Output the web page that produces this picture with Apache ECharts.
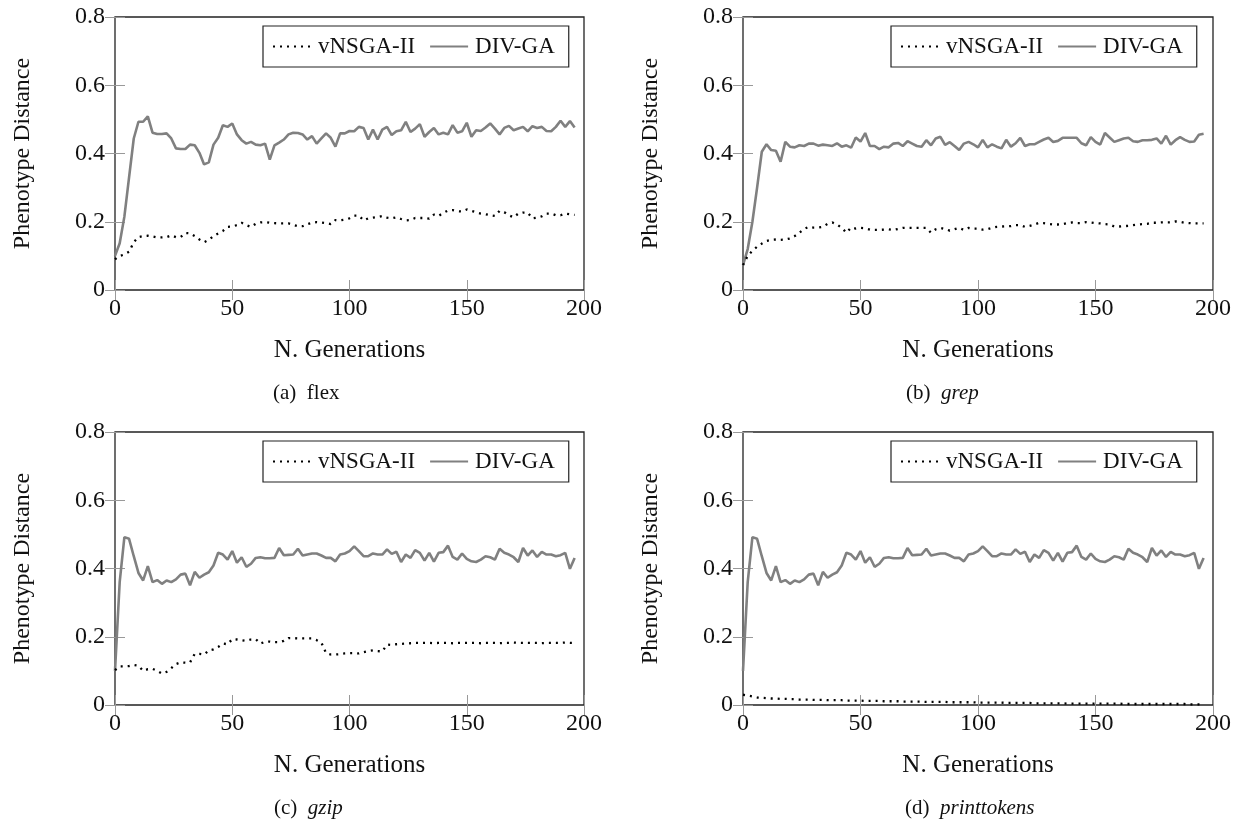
<!DOCTYPE html>
<html>
<head>
<meta charset="utf-8">
<script src="https://cdn.jsdelivr.net/npm/echarts@6/dist/echarts.min.js"></script>
<style>
  html, body { margin: 0; padding: 0; background: #fff; }
  #chart { width: 1240px; height: 819px; }
</style>
</head>
<body>
<div id="chart"></div>
<script>
// generations sampled every 2 steps (0..196)
const gens = Array.from({ length: 99 }, (_, i) => i * 2)

const xTicks = [0, 50, 100, 150, 200]
const yTicks = [0, 0.2, 0.4, 0.6, 0.8]
const seriesNames = ['vNSGA-II', 'DIV-GA']
const panelNames = ['flex', 'grep', 'gzip', 'printtokens']
const panelTags = ['(a)', '(b)', '(c)', '(d)']

// (a) flex
const vnsgaFlex = [
  0.090, 0.100, 0.104, 0.112, 0.140, 0.155, 0.158, 0.159, 0.157, 0.154,
  0.154, 0.155, 0.160, 0.155, 0.155, 0.167, 0.166, 0.158, 0.148, 0.140,
  0.147, 0.158, 0.166, 0.173, 0.185, 0.186, 0.190, 0.197, 0.190, 0.185,
  0.194, 0.198, 0.199, 0.197, 0.196, 0.195, 0.195, 0.195, 0.191, 0.187,
  0.187, 0.193, 0.197, 0.199, 0.198, 0.196, 0.193, 0.205, 0.204, 0.206,
  0.210, 0.218, 0.218, 0.204, 0.210, 0.212, 0.214, 0.217, 0.212, 0.210,
  0.213, 0.208, 0.204, 0.205, 0.211, 0.211, 0.211, 0.209, 0.221, 0.217,
  0.226, 0.233, 0.234, 0.231, 0.230, 0.236, 0.232, 0.228, 0.224, 0.222,
  0.219, 0.217, 0.232, 0.228, 0.219, 0.213, 0.224, 0.227, 0.227, 0.210,
  0.212, 0.216, 0.224, 0.224, 0.219, 0.219, 0.224, 0.222, 0.220
]
const divgaFlex = [
  0.100, 0.137, 0.215, 0.330, 0.444, 0.493, 0.493, 0.509, 0.461, 0.457,
  0.457, 0.459, 0.444, 0.415, 0.413, 0.413, 0.426, 0.424, 0.402, 0.368,
  0.374, 0.426, 0.446, 0.483, 0.478, 0.488, 0.456, 0.439, 0.429, 0.434,
  0.426, 0.424, 0.429, 0.382, 0.424, 0.432, 0.441, 0.456, 0.461, 0.460,
  0.456, 0.441, 0.451, 0.429, 0.444, 0.459, 0.446, 0.420, 0.459, 0.459,
  0.466, 0.465, 0.478, 0.475, 0.441, 0.470, 0.441, 0.470, 0.478, 0.454,
  0.465, 0.468, 0.493, 0.463, 0.473, 0.486, 0.449, 0.463, 0.475, 0.456,
  0.461, 0.456, 0.483, 0.461, 0.465, 0.490, 0.449, 0.468, 0.466, 0.476,
  0.488, 0.473, 0.456, 0.475, 0.481, 0.468, 0.473, 0.478, 0.465, 0.480,
  0.475, 0.478, 0.466, 0.465, 0.478, 0.496, 0.478, 0.495, 0.476
]

// (b) grep
const vnsgaGrep = [
  0.073, 0.100, 0.115, 0.127, 0.136, 0.144, 0.147, 0.148, 0.147, 0.148,
  0.151, 0.158, 0.168, 0.179, 0.185, 0.183, 0.183, 0.185, 0.194, 0.198,
  0.192, 0.182, 0.168, 0.183, 0.180, 0.182, 0.181, 0.177, 0.176, 0.176,
  0.177, 0.178, 0.176, 0.179, 0.182, 0.182, 0.182, 0.182, 0.182, 0.182,
  0.168, 0.178, 0.182, 0.179, 0.174, 0.178, 0.182, 0.176, 0.182, 0.180,
  0.180, 0.177, 0.178, 0.182, 0.185, 0.186, 0.187, 0.187, 0.190, 0.190,
  0.185, 0.188, 0.192, 0.197, 0.196, 0.194, 0.192, 0.192, 0.193, 0.196,
  0.198, 0.196, 0.196, 0.199, 0.198, 0.196, 0.195, 0.193, 0.192, 0.186,
  0.186, 0.187, 0.188, 0.190, 0.192, 0.193, 0.194, 0.197, 0.197, 0.198,
  0.198, 0.198, 0.201, 0.200, 0.197, 0.196, 0.195, 0.195, 0.195
]
const divgaGrep = [
  0.073, 0.120, 0.200, 0.300, 0.405, 0.427, 0.410, 0.408, 0.376, 0.434,
  0.420, 0.418, 0.424, 0.422, 0.429, 0.429, 0.423, 0.426, 0.424, 0.422,
  0.430, 0.420, 0.424, 0.417, 0.447, 0.435, 0.460, 0.422, 0.422, 0.413,
  0.420, 0.418, 0.429, 0.431, 0.422, 0.436, 0.429, 0.422, 0.420, 0.439,
  0.424, 0.444, 0.449, 0.425, 0.433, 0.422, 0.410, 0.429, 0.434, 0.427,
  0.418, 0.440, 0.418, 0.427, 0.420, 0.415, 0.440, 0.420, 0.430, 0.446,
  0.422, 0.427, 0.427, 0.434, 0.441, 0.446, 0.434, 0.437, 0.446, 0.446,
  0.446, 0.446, 0.430, 0.424, 0.448, 0.434, 0.426, 0.460, 0.447, 0.434,
  0.439, 0.444, 0.446, 0.436, 0.434, 0.439, 0.439, 0.440, 0.444, 0.429,
  0.452, 0.426, 0.439, 0.448, 0.440, 0.434, 0.435, 0.455, 0.458
]

// (c) gzip
const vnsgaGzip = [
  0.102, 0.113, 0.113, 0.114, 0.117, 0.115, 0.100, 0.105, 0.106, 0.100,
  0.092, 0.097, 0.108, 0.120, 0.125, 0.124, 0.125, 0.150, 0.150, 0.148,
  0.160, 0.163, 0.170, 0.180, 0.178, 0.193, 0.192, 0.190, 0.188, 0.192,
  0.193, 0.180, 0.185, 0.186, 0.184, 0.184, 0.188, 0.196, 0.196, 0.195,
  0.195, 0.195, 0.195, 0.190, 0.183, 0.152, 0.148, 0.148, 0.149, 0.151,
  0.152, 0.152, 0.151, 0.155, 0.158, 0.160, 0.158, 0.157, 0.177, 0.176,
  0.178, 0.179, 0.180, 0.181, 0.182, 0.182, 0.182, 0.182, 0.181, 0.182,
  0.182, 0.182, 0.181, 0.182, 0.182, 0.182, 0.182, 0.182, 0.181, 0.182,
  0.182, 0.182, 0.181, 0.182, 0.182, 0.183, 0.182, 0.182, 0.182, 0.182,
  0.182, 0.181, 0.182, 0.182, 0.182, 0.182, 0.183, 0.182, 0.182
]
const divgaGzip = [
  0.100, 0.360, 0.492, 0.487, 0.436, 0.387, 0.365, 0.407, 0.360, 0.366,
  0.355, 0.365, 0.360, 0.368, 0.382, 0.385, 0.351, 0.390, 0.373, 0.382,
  0.389, 0.409, 0.446, 0.441, 0.426, 0.451, 0.417, 0.433, 0.405, 0.414,
  0.431, 0.433, 0.430, 0.430, 0.431, 0.460, 0.439, 0.440, 0.441, 0.458,
  0.438, 0.441, 0.444, 0.444, 0.438, 0.431, 0.431, 0.421, 0.441, 0.444,
  0.451, 0.465, 0.451, 0.436, 0.436, 0.444, 0.441, 0.441, 0.456, 0.443,
  0.449, 0.419, 0.441, 0.431, 0.454, 0.446, 0.423, 0.446, 0.420, 0.446,
  0.448, 0.467, 0.434, 0.426, 0.444, 0.428, 0.421, 0.419, 0.426, 0.436,
  0.433, 0.426, 0.458, 0.446, 0.441, 0.433, 0.419, 0.460, 0.438, 0.453,
  0.434, 0.449, 0.441, 0.441, 0.436, 0.439, 0.446, 0.399, 0.431
]

// (d) printtokens
const vnsgaPrinttokens = [
  0.030, 0.028, 0.025, 0.022, 0.021, 0.020, 0.019, 0.019, 0.018, 0.018,
  0.017, 0.017, 0.016, 0.016, 0.016, 0.015, 0.015, 0.015, 0.014, 0.014,
  0.014, 0.014, 0.013, 0.013, 0.013, 0.013, 0.012, 0.012, 0.012, 0.012,
  0.011, 0.011, 0.011, 0.011, 0.010, 0.010, 0.010, 0.010, 0.010, 0.009,
  0.009, 0.009, 0.009, 0.009, 0.008, 0.008, 0.008, 0.008, 0.008, 0.008,
  0.007, 0.007, 0.007, 0.007, 0.007, 0.007, 0.006, 0.006, 0.006, 0.006,
  0.006, 0.006, 0.005, 0.005, 0.005, 0.005, 0.005, 0.005, 0.005, 0.004,
  0.004, 0.004, 0.004, 0.004, 0.004, 0.004, 0.004, 0.004, 0.004, 0.004,
  0.004, 0.003, 0.003, 0.003, 0.003, 0.003, 0.003, 0.003, 0.003, 0.003,
  0.003, 0.003, 0.003, 0.003, 0.003, 0.002, 0.002, 0.002, 0.002
]
const divgaPrinttokens = divgaGzip

const vnsgaData = [vnsgaFlex, vnsgaGrep, vnsgaGzip, vnsgaPrinttokens]
const divgaData = [divgaFlex, divgaGrep, divgaGzip, divgaPrinttokens]

const FONT = "'Liberation Serif', 'Times New Roman', serif"
const textColor = '#111'

// panel boxes (px)
const panels = [
  { left: 115, top: 17, width: 469, height: 273, caption: 273 },
  { left: 743, top: 17, width: 470, height: 273, caption: 906 },
  { left: 115, top: 432, width: 469, height: 273, caption: 274 },
  { left: 743, top: 432, width: 470, height: 273, caption: 905 },
]

const grid = []
const xAxis = []
const yAxis = []
const series = []
const legend = []
const title = []

panels.forEach((p, i) => {
  grid.push({
    left: p.left,
    top: p.top,
    width: p.width,
    height: p.height,
    show: true,
    borderColor: '#222',
    borderWidth: 1.3,
    backgroundColor: 'transparent',
  })
  const tickStyle = { show: true, inside: true, length: 10, lineStyle: { color: '#999', width: 1 } }
  xAxis.push({
    type: 'value',
    gridIndex: i,
    min: xTicks[0],
    max: xTicks[xTicks.length - 1],
    interval: 50,
    position: 'bottom',
    name: 'N. Generations',
    nameLocation: 'middle',
    nameGap: 48,
    nameTextStyle: { fontFamily: FONT, fontSize: 25, color: textColor },
    axisLine: { show: false },
    axisTick: tickStyle,
    splitLine: { show: false },
    axisLabel: { fontFamily: FONT, fontSize: 24, color: textColor, margin: 7 },
  })
  xAxis.push({
    type: 'value',
    gridIndex: i,
    min: xTicks[0],
    max: xTicks[xTicks.length - 1],
    interval: 50,
    position: 'top',
    axisLine: { show: false },
    axisTick: tickStyle,
    splitLine: { show: false },
    axisLabel: { show: false },
  })
  yAxis.push({
    type: 'value',
    gridIndex: i,
    min: yTicks[0],
    max: yTicks[yTicks.length - 1],
    interval: 0.2,
    position: 'left',
    name: 'Phenotype Distance',
    nameLocation: 'middle',
    nameGap: 80,
    nameTextStyle: { fontFamily: FONT, fontSize: 24, color: textColor },
    axisLine: { show: false },
    axisTick: tickStyle,
    splitLine: { show: false },
    axisLabel: {
      fontFamily: FONT, fontSize: 24, color: textColor, margin: 10,
      formatter: v => String(Math.round(v * 10) / 10),
    },
  })
  yAxis.push({
    type: 'value',
    gridIndex: i,
    min: yTicks[0],
    max: yTicks[yTicks.length - 1],
    interval: 0.2,
    position: 'right',
    axisLine: { show: false },
    axisTick: tickStyle,
    splitLine: { show: false },
    axisLabel: { show: false },
  })

  series.push({
    type: 'line',
    name: seriesNames[0],
    xAxisIndex: 2 * i,
    yAxisIndex: 2 * i,
    data: gens.map((g, k) => [g, vnsgaData[i][k]]),
    symbol: 'none',
    showSymbol: false,
    lineStyle: { color: '#000', width: 2.3, type: [2, 5], cap: 'butt' },
    itemStyle: { color: '#000' },
    z: 3,
  })
  series.push({
    type: 'line',
    name: seriesNames[1],
    xAxisIndex: 2 * i,
    yAxisIndex: 2 * i,
    data: gens.map((g, k) => [g, divgaData[i][k]]),
    symbol: 'none',
    showSymbol: false,
    lineStyle: { color: '#808080', width: 2.6 },
    itemStyle: { color: '#808080' },
    z: 2,
  })

  legend.push({
    data: seriesNames,
    left: p.left + 148,
    top: p.top + 9,
    orient: 'horizontal',
    borderColor: '#222',
    borderWidth: 1.2,
    borderRadius: 0,
    padding: [9, 14, 9, 9],
    itemGap: 14,
    itemWidth: 38,
    itemHeight: 14,
    selectedMode: false,
    itemStyle: { opacity: 0, borderWidth: 0 },
    textStyle: { fontFamily: FONT, fontSize: 23, color: textColor, padding: [0, 0, 0, 2] },
  })

  const italic = i > 0
  title.push({
    text: panelTags[i] + '  ' + (italic ? '{i|' + panelNames[i] + '}' : panelNames[i]),
    left: p.caption,
    top: p.top + p.height + 93,
    padding: 0,
    textStyle: {
      fontFamily: FONT, fontSize: 21, fontWeight: 'normal', color: textColor,
      rich: { i: { fontFamily: FONT, fontSize: 21, fontStyle: 'italic', color: textColor } },
    },
  })
})

const chart = echarts.init(document.getElementById('chart'), null, { renderer: 'canvas' })
chart.setOption({
  animation: false,
  backgroundColor: '#fff',
  title,
  legend,
  grid,
  xAxis,
  yAxis,
  series,
})
</script>
</body>
</html>
